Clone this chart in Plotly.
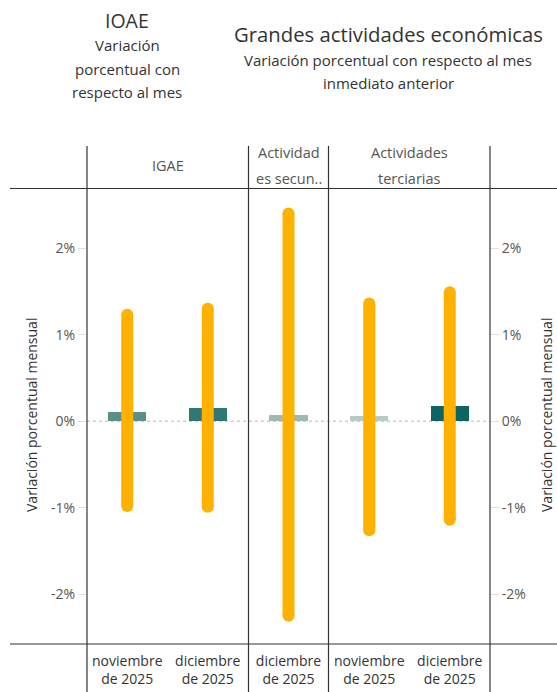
import plotly.graph_objects as go
from plotly.subplots import make_subplots

# ---------------- data ----------------
segmentos = ["IGAE", "IGAE", "Actividades secundarias", "Actividades terciarias", "Actividades terciarias"]
meses = ["noviembre<br>de 2025", "diciembre<br>de 2025", "diciembre<br>de 2025",
         "noviembre<br>de 2025", "diciembre<br>de 2025"]
variacion = [0.11, 0.15, 0.07, 0.06, 0.17]      # % mensual (IOAE)
rango_max = [1.23, 1.30, 2.40, 1.36, 1.49]      # extremo superior del intervalo
rango_min = [-0.98, -0.99, -2.25, -1.26, -1.14] # extremo inferior del intervalo
encabezados = ["IGAE", "Actividad<br>es secun..", "Actividades<br>terciarias"]
panel_de = [0, 0, 1, 2, 2]
tick_vals = [-2, -1, 0, 1, 2]
tick_text = ["-2%", "-1%", "0%", "1%", "2%"]

# ---------------- style ----------------
W, H = 557, 692
L, R, T, B = 87, 67, 189, 48
PW, PH = W - L - R, H - T - B
bar_colors = ["#5a8f8a", "#2f7874", "#9fb8b1", "#b6cbc3", "#0d6462"]
yellow = "#FFB100"
FONT = "Open Sans"
TXT = "#333333"
GRAY = "#555555"
YR = [-2.576, 2.684]


def px(xp):
    return (xp - L) / PW


def py(yp):
    return (H - B - yp) / PH


fig = make_subplots(rows=1, cols=3, shared_yaxes=True,
                    column_widths=[161, 81, 161], horizontal_spacing=0)

for i in range(len(variacion)):
    c = panel_de[i] + 1
    fig.add_trace(go.Bar(x=[meses[i]], y=[variacion[i]], width=0.47,
                         marker=dict(color=bar_colors[i], line=dict(width=0)),
                         showlegend=False, hoverinfo="skip"), row=1, col=c)

for i in range(len(variacion)):
    c = panel_de[i] + 1
    fig.add_trace(go.Scatter(x=[meses[i], meses[i]], y=[rango_min[i], rango_max[i]],
                             mode="lines+markers",
                             line=dict(color=yellow, width=12),
                             marker=dict(color=yellow, size=12),
                             showlegend=False, hoverinfo="skip"), row=1, col=c)

# invisible trace to carry the right-hand axis
fig.add_trace(go.Scatter(x=[meses[3]], y=[variacion[3]], xaxis="x3", yaxis="y4",
                         mode="markers", marker=dict(opacity=0), showlegend=False,
                         hoverinfo="skip"))

fig.update_layout(
    template="none",
    width=W, height=H,
    margin=dict(l=L, r=R, t=T, b=B, pad=0),
    paper_bgcolor="white", plot_bgcolor="white",
    font=dict(family=FONT, color=TXT),
    bargap=0,
    yaxis4=dict(overlaying="y3", side="right", anchor="x3", range=YR,
                tickvals=tick_vals, ticktext=tick_text, ticks="outside",
                ticklen=8, tickcolor="#e0e0e0", showgrid=False, zeroline=False,
                showline=False, tickfont=dict(size=14, color=GRAY, family=FONT),
                ticklabelstandoff=0, automargin=False),
)

ncat = [2, 1, 2]
for k in range(3):
    fig.update_xaxes(row=1, col=k + 1, type="category", range=[-0.5, ncat[k] - 0.5],
                     showgrid=False, zeroline=False, showline=False, ticks="",
                     tickfont=dict(size=14, color=TXT, family=FONT),
                     ticklabelstandoff=7, automargin=False)
    fig.update_yaxes(row=1, col=k + 1, range=YR, tickvals=tick_vals, ticktext=tick_text,
                     showgrid=False, zeroline=False, showline=False, automargin=False)

fig.update_yaxes(row=1, col=1, ticks="outside", ticklen=8, tickcolor="#e0e0e0",
                 tickfont=dict(size=14, color=GRAY, family=FONT), ticklabelstandoff=0)
fig.update_yaxes(row=1, col=2, showticklabels=False, ticks="")
fig.update_yaxes(row=1, col=3, showticklabels=False, ticks="")

shapes = []
line = dict(color="#333333", width=1.2)
# zero reference line (dotted)
shapes.append(dict(type="line", xref="paper", yref="y", x0=0, x1=1, y0=0, y1=0,
                   line=dict(color="#b5b5b5", width=1, dash="dot"), layer="below"))
# vertical separators
for xp in [87, 248.5, 328.5, 490]:
    shapes.append(dict(type="line", xref="paper", yref="paper", x0=px(xp), x1=px(xp),
                       y0=py(146), y1=py(692), line=line))
# horizontal rules
for yp in [188.5, 644]:
    shapes.append(dict(type="line", xref="paper", yref="paper", x0=px(10), x1=px(557),
                       y0=py(yp), y1=py(yp), line=line))
fig.update_layout(shapes=shapes)

ann = []


def text(s, x, y, size, color=TXT, angle=0):
    ann.append(dict(text=s, x=px(x), y=py(y), xref="paper", yref="paper",
                    xanchor="center", yanchor="middle", showarrow=False,
                    textangle=angle, font=dict(size=size, color=color, family=FONT)))


# titles
text("IOAE", 127, 20, 19.5)
text("Variación", 127, 45, 15)
text("porcentual con", 127, 69, 15)
text("respecto al mes", 127, 92, 15)
text("Grandes actividades económicas", 388, 34, 20.3)
text("Variación porcentual con respecto al mes", 388, 60, 15)
text("inmediato anterior", 388, 83, 15)

# panel headers
text(encabezados[0], 168, 165, 14.5, GRAY)
text("Actividad", 288.5, 152, 14.5, GRAY)
text("es secun..", 288.5, 178, 14.5, GRAY)
text("Actividades", 409, 152, 14.5, GRAY)
text("terciarias", 409, 178, 14.5, GRAY)

# axis titles
text("Variación porcentual mensual", 31, 415, 14, TXT, -90)
text("Variación porcentual mensual", 546, 415, 14, TXT, -90)

fig.update_layout(annotations=ann)

fig.write_html("out.html", config={"displayModeBar": False},
               post_script="document.body.style.margin='0';")
